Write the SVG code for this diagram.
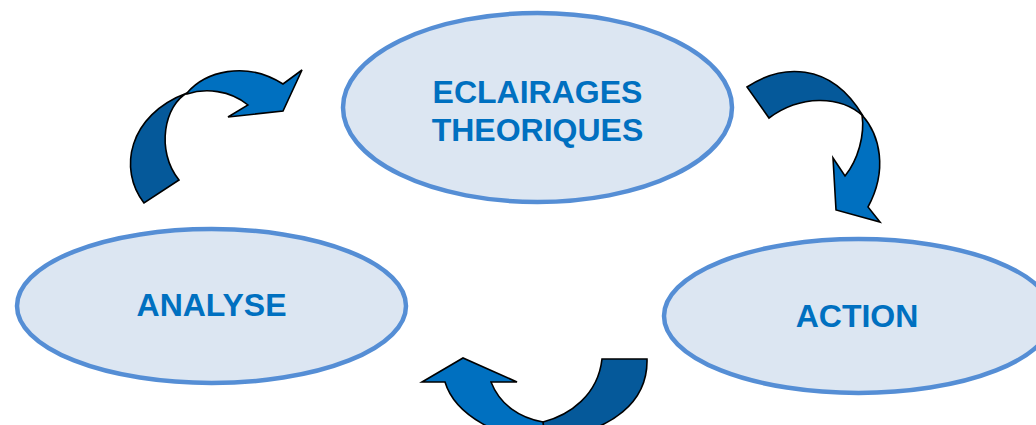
<svg xmlns="http://www.w3.org/2000/svg" width="1036" height="425" viewBox="0 0 1036 425">
<style>
.node{fill:#DCE6F2;stroke:#558ED5;stroke-width:4.5}
.lbl{font-family:"Liberation Sans",Arial,sans-serif;font-weight:bold;font-size:32px;fill:#0070C0;text-anchor:middle}
.dark{fill:#05599A;stroke:#000;stroke-width:1.6;stroke-linejoin:miter}
.light{fill:#0070C0;stroke:#000;stroke-width:1.6;stroke-linejoin:miter}
</style>
<rect width="1036" height="425" fill="#fff"/>
<g id="connectors">
  <g id="arrow-analyse-eclairages">
    <path class="dark" d="M144,203 C118,170 128,115 187,93 C165,105 155,150 179,180 Z"/>
    <path class="light" d="M187,93 C205,72 245,60 283,84 L302,70 L283,111 L228,117 L248,105 C230,90 205,88 187,94 Z"/>
  </g>
  <g id="arrow-eclairages-action">
    <path class="dark" d="M747,87 C780,65 830,60 863,116 C840,95 800,95 769,118 Z"/>
    <path class="light" d="M862,115 C880,135 888,170 868,207 L880,222 L836,210 L833,158 L845,176 C858,160 865,135 862,115 Z"/>
  </g>
  <g id="arrow-action-analyse">
    <path class="dark" d="M602,359 L647,359 C648,400 615,432 545,440 L543,422 C570,415 598,395 602,359 Z"/>
    <path class="light" d="M445,382 L422,382 L463,358 L517,382 L491,382 C500,405 520,418 543,422 L545,440 C500,440 455,415 445,382 Z"/>
  </g>
</g>
<g id="node-eclairages">
  <ellipse class="node" cx="537.5" cy="107.5" rx="194.5" ry="94.5"/>
  <text class="lbl" x="537.5" y="103">ECLAIRAGES</text>
  <text class="lbl" x="537.5" y="141">THEORIQUES</text>
</g>
<g id="node-analyse">
  <ellipse class="node" cx="211.5" cy="306" rx="194.5" ry="77"/>
  <text class="lbl" x="211.5" y="316">ANALYSE</text>
</g>
<g id="node-action">
  <ellipse class="node" cx="858.5" cy="316" rx="194.5" ry="77"/>
  <text class="lbl" x="857" y="327">ACTION</text>
</g>
</svg>
